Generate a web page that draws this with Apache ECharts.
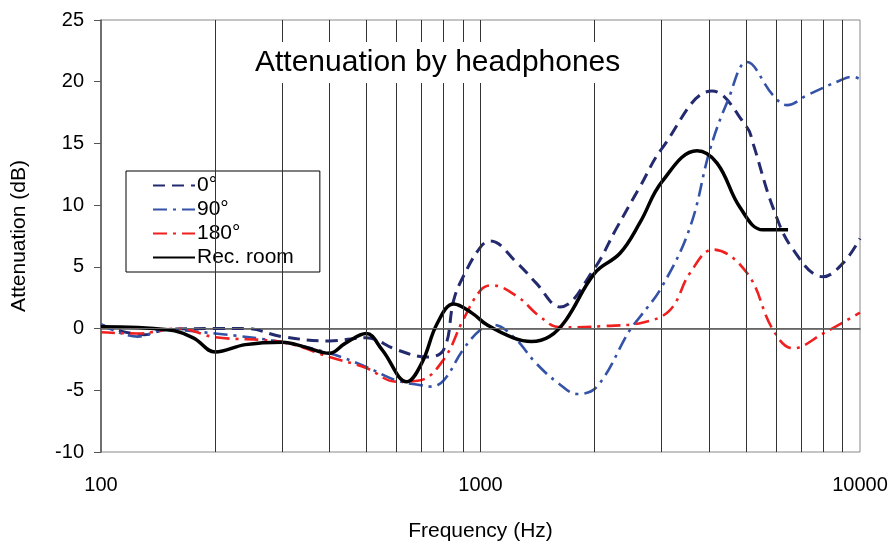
<!DOCTYPE html>
<html>
<head>
<meta charset="utf-8">
<script src="https://cdn.jsdelivr.net/npm/echarts@6/dist/echarts.min.js"></script>
<style>html,body{margin:0;padding:0;background:#fff}#c{width:890px;height:541px}</style>
</head>
<body>
<div id="c"></div>
<script>
// [frequency Hz, attenuation dB]
const deg0 = [[100,0.3],[130,-0.5],[150,-0.05],[200,0.0],[241,0.0],[300,-0.65],[400,-1.0],[500,-0.75],[600,-1.7],[720,-2.3],[800,-1.7],[850,2.3],[900,4.2],[1000,6.6],[1060,7.1],[1250,5.3],[1400,3.7],[1620,1.75],[1979,4.7],[2289,8.2],[2633,11.5],[3008,14.6],[4074,19.25],[5039,16.3],[5226,15.0],[5900,9.8],[6663,6.4],[7991,4.2],[9021,5.3],[10000,7.3]];
const deg90 = [[100,0.35],[125,-0.65],[147,-0.1],[200,-0.4],[300,-1.1],[400,-2.0],[500,-3.1],[600,-4.2],[700,-4.6],[740,-4.7],[800,-4.2],[900,-1.7],[1000,-0.1],[1080,0.3],[1220,-0.65],[1400,-2.8],[1600,-4.4],[1800,-5.3],[2028,-4.7],[2477,-0.1],[2633,0.95],[3008,3.4],[3565,8.2],[4025,14.5],[4489,18.5],[5039,21.6],[5900,18.9],[6423,18.1],[7253,18.9],[8858,20.1],[9585,20.4],[10000,20.2]];
const deg180 = [[100,-0.3],[125,-0.4],[160,0.0],[200,-0.7],[300,-1.1],[400,-2.3],[500,-3.2],[600,-4.3],[690,-4.2],[800,-2.5],[900,0.7],[1000,3.1],[1070,3.5],[1250,2.6],[1430,1.0],[1620,0.1],[2102,0.2],[2681,0.5],[3157,1.5],[3565,4.5],[4099,6.4],[5039,4.5],[5900,-0.1],[6663,-1.6],[7991,-0.4],[10000,1.3]];
const recRoom = [[100,0.15],[150,-0.1],[175,-0.75],[200,-1.9],[240,-1.3],[300,-1.1],[345,-1.5],[400,-2.0],[440,-1.2],[500,-0.4],[550,-1.7],[640,-4.3],[700,-2.8],[770,0.45],[850,2.0],[950,1.25],[1040,0.3],[1220,-0.75],[1360,-1.05],[1520,-0.65],[1680,0.7],[2000,4.5],[2331,6.1],[2633,8.6],[3008,11.9],[3720,14.4],[4200,13.4],[4830,9.8],[5551,8.0],[6463,8.0]];
const seriesNames = ['0°','90°','180°','Rec. room'];
const gridFreqs = [200,300,400,500,600,700,800,900,1000,2000,3000,4000,5000,6000,7000,8000,9000];
const titleText = 'Attenuation by headphones';
const xName = 'Frequency (Hz)';
const yName = 'Attenuation (dB)';

const FONT = 'Liberation Sans, Arial, sans-serif';
const chart = echarts.init(document.getElementById('c'), null, {renderer:'canvas'});
chart.setOption({
  animation:false,
  backgroundColor:'#fff',
  textStyle:{fontFamily:FONT},
  title:{text:titleText,left:249,top:42,padding:[5,6,4,6],backgroundColor:'#fff',
    textStyle:{fontFamily:FONT,fontSize:30,fontWeight:'normal',color:'#000',lineHeight:32}},
  legend:{orient:'vertical',left:126,top:171,padding:[4,26,4,26],itemWidth:42,itemHeight:14,itemGap:3,
    backgroundColor:'#fff',borderColor:'#000',borderWidth:1,data:seriesNames,
    itemStyle:{opacity:0},
    textStyle:{fontFamily:FONT,fontSize:21,color:'#000',lineHeight:20,padding:[0,0,0,-3]}},
  grid:{left:101,right:30,top:20,bottom:89,show:true,borderColor:'#888',borderWidth:1,backgroundColor:'transparent',
    outerBoundsMode:'none',containLabel:false},
  xAxis:{type:'log',logBase:10,min:100,max:10000,name:xName,nameLocation:'middle',nameGap:69,
    nameTextStyle:{fontFamily:FONT,fontSize:21,color:'#000'},
    axisLine:{lineStyle:{color:'#555',width:1.5}},axisTick:{show:false},splitLine:{show:false},minorTick:{show:false},
    axisLabel:{fontFamily:FONT,fontSize:20,color:'#000',margin:23,formatter:v=>String(Math.round(v))}},
  yAxis:{type:'value',min:-10,max:25,interval:5,name:yName,nameLocation:'middle',nameGap:71,
    nameTextStyle:{fontFamily:FONT,fontSize:21,color:'#000'},
    axisLine:{show:true,lineStyle:{color:'#555',width:1.5}},axisTick:{show:true,inside:false,length:7,lineStyle:{color:'#555'}},
    splitLine:{show:false},axisLabel:{fontFamily:FONT,fontSize:20,color:'#000',margin:17}},
  series:[
    {type:'line',name:'grid',data:[],silent:true,z:1,
      markLine:{silent:true,symbol:'none',label:{show:false},animation:false,
        data:gridFreqs.map(f=>({xAxis:f,lineStyle:{color:'#333',width:1,type:'solid'}})).concat([{yAxis:0,lineStyle:{color:'#666',width:1.2,type:'solid'}}])}},
    {type:'line',name:seriesNames[0],data:deg0,smooth:0.4,symbol:'none',z:3,
      lineStyle:{color:'#232a6e',width:3,type:[12,7]},itemStyle:{color:'#232a6e'}},
    {type:'line',name:seriesNames[1],data:deg90,smooth:0.4,symbol:'none',z:3,
      lineStyle:{color:'#3352a8',width:2.6,type:[14,6,3,6]},itemStyle:{color:'#3352a8'}},
    {type:'line',name:seriesNames[2],data:deg180,smooth:0.4,symbol:'none',z:3,
      lineStyle:{color:'#f02020',width:2.6,type:[14,6,3,6]},itemStyle:{color:'#f02020'}},
    {type:'line',name:seriesNames[3],data:recRoom,smooth:0.4,symbol:'none',z:4,
      lineStyle:{color:'#000',width:3.5,type:'solid'},itemStyle:{color:'#000'}}
  ]
});
</script>
</body>
</html>
